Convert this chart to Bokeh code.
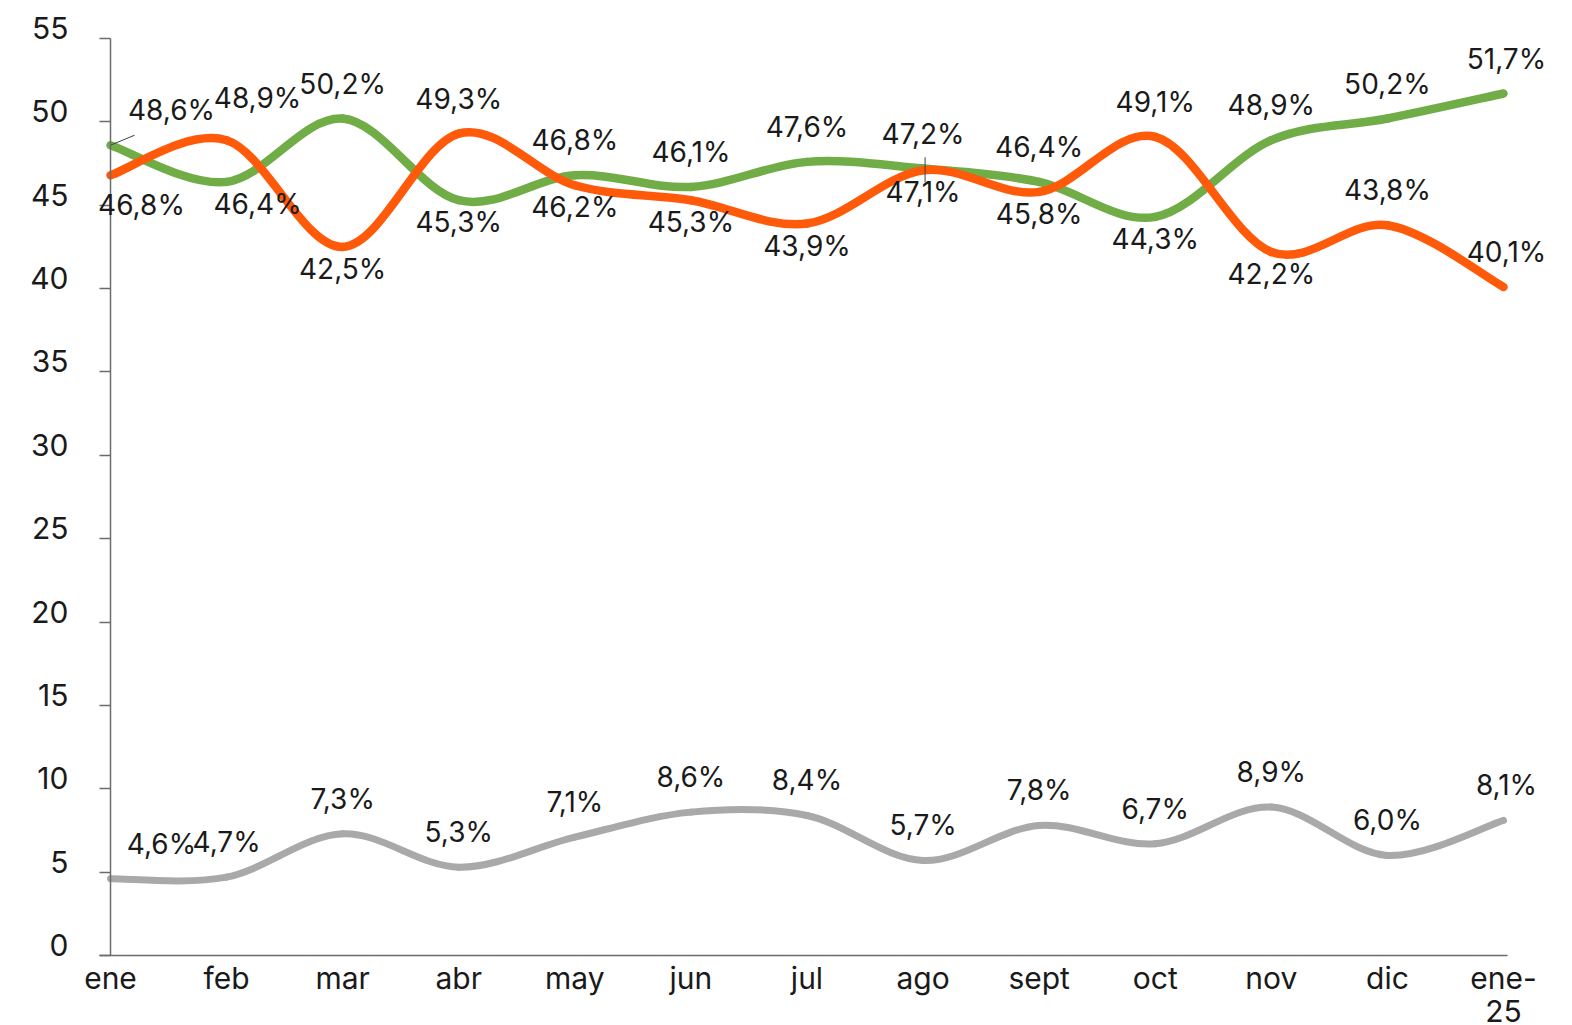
import numpy as np
from bokeh.plotting import figure
from bokeh.models import (ColumnDataSource, LabelSet, FixedTicker, Range1d, LinearAxis)
from bokeh.core.properties import value
from bokeh.embed import file_html
from bokeh.resources import INLINE

# ---------------- data ----------------
months = ["ene", "feb", "mar", "abr", "may", "jun", "jul", "ago", "sept", "oct", "nov", "dic", "ene-25"]
green_vals = [48.6, 46.4, 50.2, 45.3, 46.8, 46.1, 47.6, 47.2, 46.4, 44.3, 48.9, 50.2, 51.7]
orange_vals = [46.8, 48.9, 42.5, 49.3, 46.2, 45.3, 43.9, 47.1, 45.8, 49.1, 42.2, 43.8, 40.1]
gray_vals = [4.6, 4.7, 7.3, 5.3, 7.1, 8.6, 8.4, 5.7, 7.8, 6.7, 8.9, 6.0, 8.1]
y_ticks = [0, 5, 10, 15, 20, 25, 30, 35, 40, 45, 50, 55]

# label placement (a = above, b = below) and pixel nudges
green_pos = ["a", "b", "a", "b", "a", "a", "a", "a", "a", "b", "a", "a", "a"]
orange_pos = ["b", "a", "b", "a", "b", "b", "b", "b", "b", "a", "b", "a", "a"]
gray_pos = ["a"] * 13
green_dx = [61, 31, 0, 0, 0, 0, 0, 0, 0, 0, 0, 0, 3]
orange_dx = [31, 31, 0, 0, 0, 0, 0, 0, 0, 0, 0, 0, 3]
gray_dx = [51, 0, 0, 0, 0, 0, 0, 0, 0, 0, 0, 0, 3]
green_dy = [0] * 13
orange_dy = [-8, 7, 0, 0, 0, 0, 0, 0, 0, 0, 0, 0, 0]
gray_dy = [0] * 13

GREEN = "#70AD47"
ORANGE = "#FF5A0A"
GRAY = "#A9A9A9"
AXIS = "#6b6b6b"
LEADER = "#404040"
FONT = "Inter"
TXT = "#1a1a1a"

# ---------------- layout (pixels) ----------------
W, H = 1572, 1025
X0_PX, X12_PX = 110, 1503      # where first / last month sit
Y0_PX, Y55_PX = 955, 38        # where 0 / 55 sit
sx = (X12_PX - X0_PX) / 12.0
sy = (Y0_PX - Y55_PX) / 55.0
x_start = -X0_PX / sx
x_end = 12 + (W - X12_PX) / sx
y_end = 55 + Y55_PX / sy
y_start = -(H - Y0_PX) / sy
LABEL_LIFT = 10.5 / sy          # y tick labels sit a little above their ticks

p = figure(width=W, height=H, output_backend="svg", toolbar_location=None,
           x_range=Range1d(x_start, x_end), y_range=Range1d(y_start, y_end),
           x_axis_location=None, y_axis_location=None,
           min_border_left=0, min_border_right=0, min_border_top=0, min_border_bottom=0)
p.outline_line_color = None
p.grid.visible = False
p.background_fill_color = "white"
p.border_fill_color = "white"
p.extra_y_ranges = {"labels": Range1d(y_start - LABEL_LIFT, y_end - LABEL_LIFT)}

# x axis
xaxis = LinearAxis(fixed_location=0, bounds=(-11 / sx, 12 + 4 / sx))
xaxis.ticker = FixedTicker(ticks=list(range(len(months))))
overrides = {i: m for i, m in enumerate(months)}
overrides[len(months) - 1] = months[-1].replace("-", "-\n")
xaxis.major_label_overrides = overrides
xaxis.major_tick_out = 0
xaxis.major_tick_in = 0
xaxis.minor_tick_line_color = None
xaxis.major_label_standoff = 4
xaxis.major_label_text_font = FONT
xaxis.major_label_text_font_size = "30px"
xaxis.major_label_text_line_height = 0.93
xaxis.major_label_text_color = TXT
xaxis.axis_line_color = AXIS
xaxis.axis_line_width = 1.5
p.add_layout(xaxis, "below")

# y axis: line and tick marks
yaxis = LinearAxis(fixed_location=0, bounds=(0, 55))
yaxis.ticker = FixedTicker(ticks=[], minor_ticks=y_ticks)
yaxis.minor_tick_out = 11
yaxis.minor_tick_in = 0
yaxis.minor_tick_line_color = AXIS
yaxis.minor_tick_line_width = 1.5
yaxis.major_tick_line_color = None
yaxis.axis_line_color = AXIS
yaxis.axis_line_width = 1.5
p.add_layout(yaxis, "left")

# y axis: tick labels (raised so that they sit on their ticks, as in the original)
ylab = LinearAxis(fixed_location=0, y_range_name="labels")
ylab.ticker = FixedTicker(ticks=y_ticks)
ylab.axis_line_color = None
ylab.major_tick_line_color = None
ylab.minor_tick_line_color = None
ylab.major_tick_out = 0
ylab.major_tick_in = 0
ylab.major_label_standoff = 42
ylab.major_label_text_font = FONT
ylab.major_label_text_font_size = "30px"
ylab.major_label_text_color = TXT
p.add_layout(ylab, "left")


def bezier_source(vals):
    y = np.array(vals, dtype=float)
    x = np.arange(len(y), dtype=float)
    n = len(y)
    d = dict(x0=[], y0=[], x1=[], y1=[], cx0=[], cy0=[], cx1=[], cy1=[])
    for i in range(n - 1):
        im = max(i - 1, 0)
        ip = min(i + 2, n - 1)
        d["x0"].append(x[i]); d["y0"].append(y[i])
        d["x1"].append(x[i + 1]); d["y1"].append(y[i + 1])
        d["cx0"].append(x[i] + (x[i + 1] - x[im]) / 6); d["cy0"].append(y[i] + (y[i + 1] - y[im]) / 6)
        d["cx1"].append(x[i + 1] - (x[ip] - x[i]) / 6); d["cy1"].append(y[i + 1] - (y[ip] - y[i]) / 6)
    return ColumnDataSource(d)


for vals, col, lw in [(gray_vals, GRAY, 7), (green_vals, GREEN, 8.5), (orange_vals, ORANGE, 8.5)]:
    p.bezier(x0="x0", y0="y0", x1="x1", y1="y1", cx0="cx0", cy0="cy0", cx1="cx1", cy1="cy1",
             source=bezier_source(vals), line_color=col, line_width=lw, line_cap="round")

# leader lines of the two moved labels (ene green, ago orange)
p.segment(x0=[0, 7 + 2 / sx], y0=[green_vals[0], orange_vals[7] + 13 / sy],
          x1=[24 / sx, 7 + 2 / sx], y1=[green_vals[0] + 10 / sy, orange_vals[7] - 12 / sy],
          line_color=LEADER, line_width=1)


def fmt(v):
    return f"{v:.1f}".replace(".", ",") + "%"


for vals, pos, dx, dy in [(gray_vals, gray_pos, gray_dx, gray_dy),
                          (green_vals, green_pos, green_dx, green_dy),
                          (orange_vals, orange_pos, orange_dx, orange_dy)]:
    yoff = [(25 if ps == "a" else -32) + e for ps, e in zip(pos, dy)]
    src = ColumnDataSource(dict(x=list(range(len(vals))), y=vals, t=[fmt(v) for v in vals],
                                xo=dx, yo=yoff))
    p.add_layout(LabelSet(x="x", y="y", text="t", source=src, x_offset="xo", y_offset="yo",
                          text_align="center", text_baseline="alphabetic", text_font=value(FONT),
                          text_font_size="28px", text_color=TXT))

open("out.html", "w").write(file_html(p, INLINE))
